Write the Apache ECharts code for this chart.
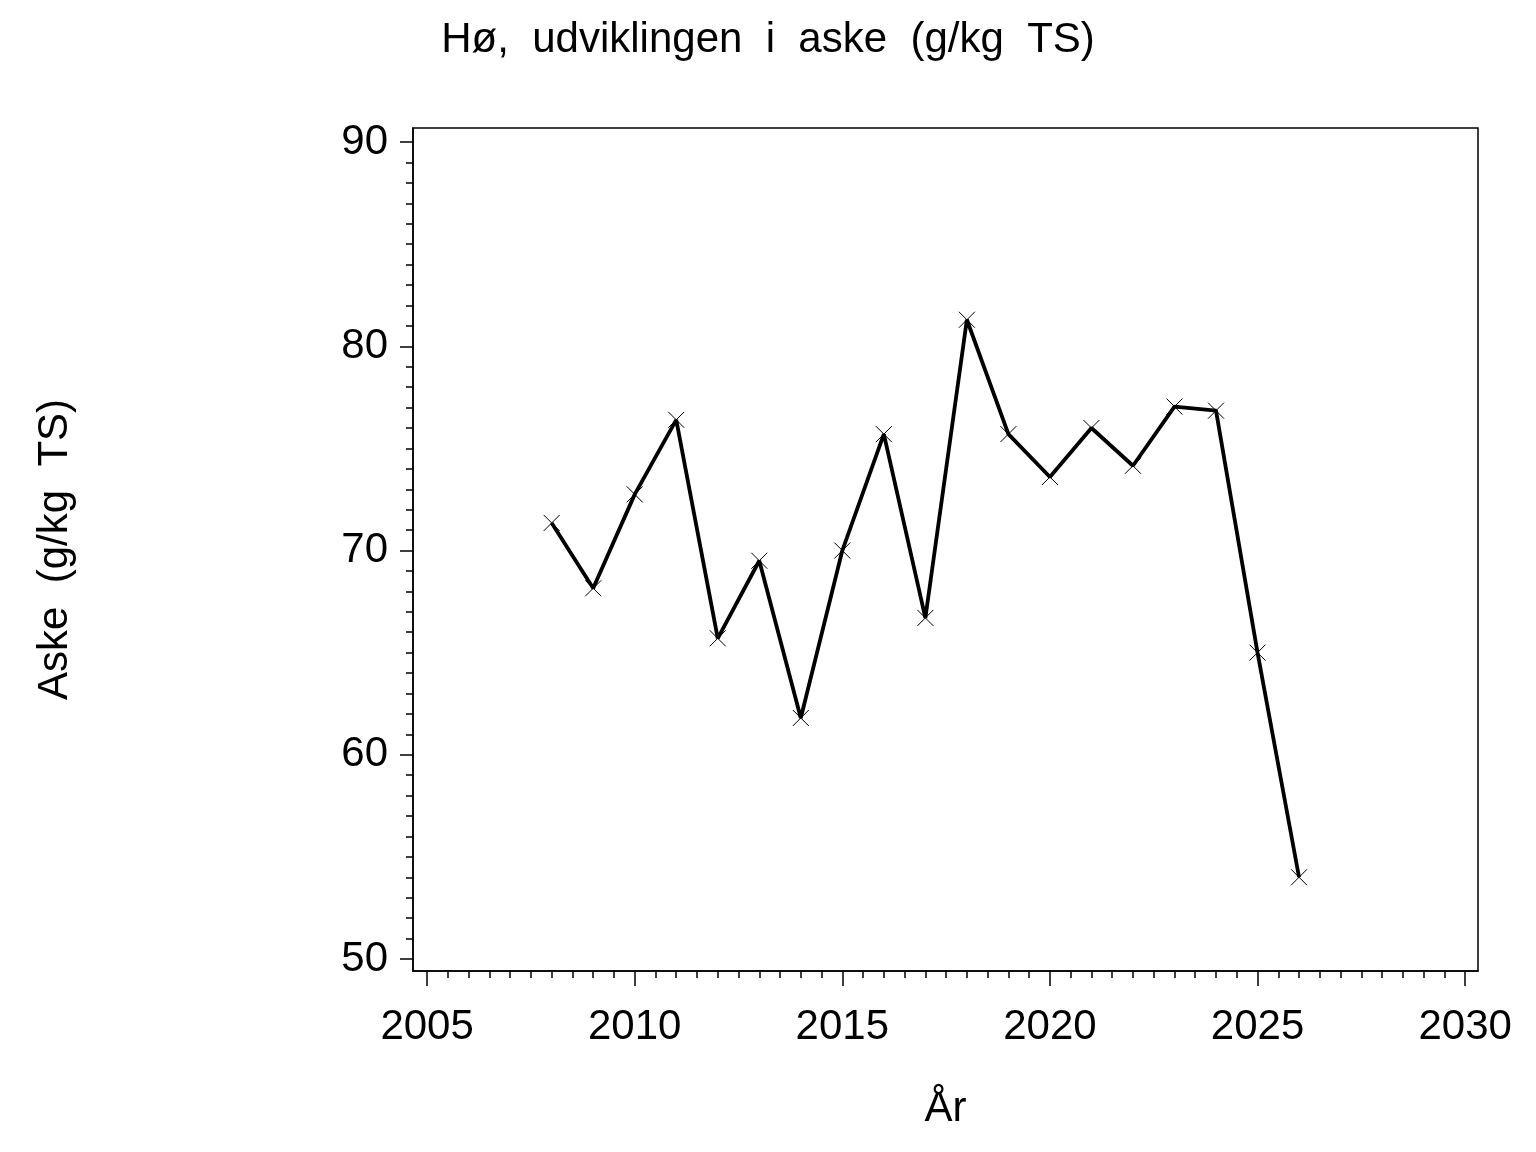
<!DOCTYPE html>
<html>
<head>
<meta charset="utf-8">
<script src="https://cdn.jsdelivr.net/npm/echarts@6/dist/echarts.min.js"></script>
<style>html,body{margin:0;padding:0;background:#fff}#c{width:1536px;height:1152px}</style>
</head>
<body>
<div id="c"></div>
<script>
const years = [2008,2009,2010,2011,2012,2013,2014,2015,2016,2017,2018,2019,2020,2021,2022,2023,2024,2025,2026];
const aske  = [71.35,68.15,72.75,76.4,65.7,69.5,61.8,70.0,75.7,66.7,81.3,75.7,73.6,76.0,74.15,77.05,76.85,65.0,54.0];
const xTickLabels = [2005,2010,2015,2020,2025,2030];
const yTickLabels = [50,60,70,80,90];
const xMinorTicks = [];
for (let v = 2005; v <= 2030; v += 0.5) if (v % 5 !== 0) xMinorTicks.push(v);
const yMinorTicks = [];
for (let v = 50; v <= 90; v += 1) if (v % 10 !== 0) yMinorTicks.push(v);

const FONT = 'Liberation Sans, Arial, sans-serif';
const X_MIN = 2004.66, X_MAX = 2030.31, Y_MIN = 49.41, Y_MAX = 90.69;

const chart = echarts.init(document.getElementById('c'), null, {renderer: 'canvas'});
chart.setOption({
  animation: false,
  backgroundColor: '#fff',
  title: {
    text: 'Hø,  udviklingen  i  aske  (g/kg  TS)',
    left: 'center', top: 14,
    textStyle: {fontFamily: FONT, fontSize: 42, fontWeight: 'normal', color: '#000'}
  },
  grid: {
    left: 413, top: 128, right: 58, bottom: 181,
    show: true, borderColor: '#000', borderWidth: 1.5, backgroundColor: 'transparent'
  },
  xAxis: [{
    type: 'value', min: X_MIN, max: X_MAX, position: 'bottom',
    name: 'År', nameLocation: 'middle', nameGap: 117,
    nameTextStyle: {fontFamily: FONT, fontSize: 42, color: '#000'},
    axisLine: {show: true, onZero: false, lineStyle: {color: '#000', width: 1.5}},
    axisTick: {show: true, inside: false, length: 15, customValues: xTickLabels, lineStyle: {color: '#000', width: 1.5}},
    axisLabel: {show: true, margin: 35, customValues: xTickLabels, fontFamily: FONT, fontSize: 42, color: '#000', formatter: v => String(v)},
    splitLine: {show: false}
  }, {
    type: 'value', min: X_MIN, max: X_MAX, position: 'bottom', gridIndex: 0,
    axisLine: {show: false, onZero: false},
    axisTick: {show: true, inside: false, length: 7, customValues: xMinorTicks, lineStyle: {color: '#000', width: 1.5}},
    axisLabel: {show: false},
    splitLine: {show: false}
  }],
  yAxis: [{
    type: 'value', min: Y_MIN, max: Y_MAX, position: 'left',
    name: 'Aske  (g/kg  TS)', nameLocation: 'middle', nameGap: 337, nameRotate: 90,
    nameTextStyle: {fontFamily: FONT, fontSize: 42, color: '#000'},
    axisLine: {show: true, onZero: false, lineStyle: {color: '#000', width: 1.5}},
    axisTick: {show: true, inside: false, length: 13, customValues: yTickLabels, lineStyle: {color: '#000', width: 1.5}},
    axisLabel: {show: true, margin: 25, customValues: yTickLabels, fontFamily: FONT, fontSize: 42, color: '#000', formatter: v => String(v)},
    splitLine: {show: false}
  }, {
    type: 'value', min: Y_MIN, max: Y_MAX, position: 'left', gridIndex: 0,
    axisLine: {show: false, onZero: false},
    axisTick: {show: true, inside: false, length: 7, customValues: yMinorTicks, lineStyle: {color: '#000', width: 1.5}},
    axisLabel: {show: false},
    splitLine: {show: false}
  }],
  series: [{
    type: 'line',
    xAxisIndex: 0, yAxisIndex: 0,
    data: years.map((y, i) => [y, aske[i]]),
    lineStyle: {color: '#000', width: 3.8},
    symbol: 'path://M0,0L16,16M16,0L0,16',
    symbolSize: 16,
    showSymbol: true,
    itemStyle: {color: 'rgba(0,0,0,0)', borderColor: '#000', borderWidth: 1},
    z: 3
  }]
});
</script>
</body>
</html>
